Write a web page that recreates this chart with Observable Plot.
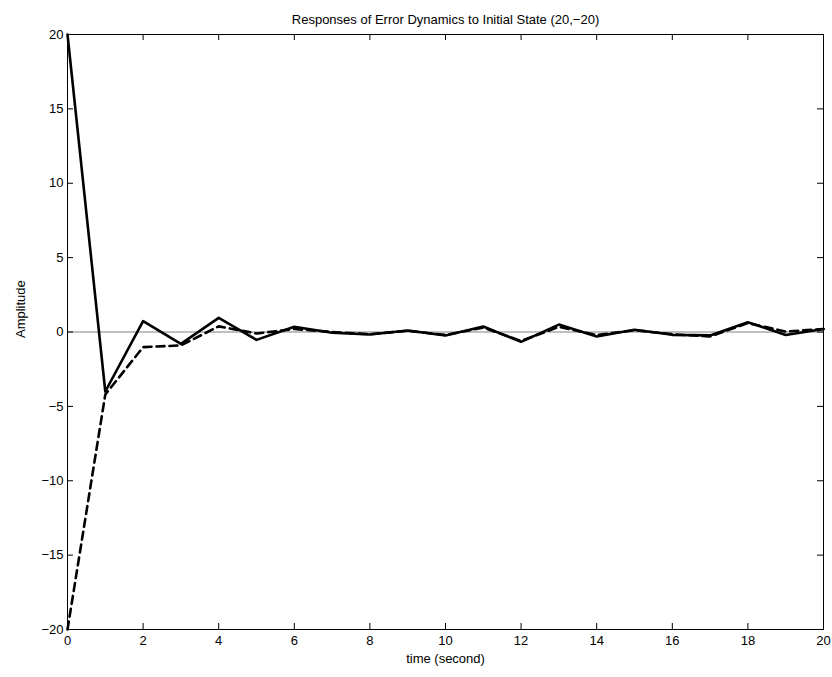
<!DOCTYPE html>
<html>
<head>
<meta charset="utf-8">
<script src="https://cdn.jsdelivr.net/npm/d3@7"></script>
<script src="https://cdn.jsdelivr.net/npm/@observablehq/plot@0.6"></script>
<style>
  html, body { margin: 0; padding: 0; background: #fff; }
</style>
</head>
<body>
<div id="chart"></div>
<script>
const time = [0,1,2,3,4,5,6,7,8,9,10,11,12,13,14,15,16,17,18,19,20];
const errorState1 = [20, -4.0, 0.73, -0.8, 0.95, -0.53, 0.35, -0.05, -0.17, 0.1, -0.24, 0.37, -0.66, 0.5, -0.3, 0.15, -0.19, -0.23, 0.66, -0.2, 0.2];
const errorState2 = [-20, -4.2, -1.02, -0.9, 0.38, -0.1, 0.2, 0.0, -0.15, 0.08, -0.2, 0.3, -0.6, 0.35, -0.2, 0.12, -0.15, -0.3, 0.6, 0.03, 0.2];
const xTicks = [0,2,4,6,8,10,12,14,16,18,20];
const yTicks = [-20,-15,-10,-5,0,5,10,15,20];
const titleText = "Responses of Error Dynamics to Initial State (20,\u221220)";
const xLabel = "time (second)";
const yLabel = "Amplitude";

const s1 = time.map((t, i) => ({t, v: errorState1[i]}));
const s2 = time.map((t, i) => ({t, v: errorState2[i]}));

const W = 832, H = 677;
const mL = 67, mR = 9, mT = 34, mB = 48;
const fw = W - mL - mR, fh = H - mT - mB;
const tl = 6;
const fs = 13;
const fmt = d => String(d).replace("-", "\u2212");

const chart = Plot.plot({
  width: W,
  height: H,
  marginLeft: mL,
  marginRight: mR,
  marginTop: mT,
  marginBottom: mB,
  style: {fontFamily: "'Liberation Sans', Arial, sans-serif", fontSize: fs + "px", color: "black", background: "white"},
  x: {domain: [0, 20]},
  y: {domain: [-20, 20]},
  marks: [
    Plot.ruleY([0], {stroke: "#808080", strokeWidth: 1}),
    Plot.line(s2, {x: "t", y: "v", stroke: "black", strokeWidth: 2.6, strokeDasharray: "8,5"}),
    Plot.line(s1, {x: "t", y: "v", stroke: "black", strokeWidth: 2.6}),
    Plot.tickX(xTicks, {x: d => d, stroke: "black", insetTop: fh - tl}),
    Plot.tickX(xTicks, {x: d => d, stroke: "black", insetBottom: fh - tl}),
    Plot.tickY(yTicks, {y: d => d, stroke: "black", insetRight: fw - tl}),
    Plot.tickY(yTicks, {y: d => d, stroke: "black", insetLeft: fw - tl}),
    Plot.axisX(xTicks, {tickSize: 0, tickPadding: 6, label: null, fontSize: fs}),
    Plot.axisY(yTicks, {tickSize: 0, tickPadding: 4, label: null, tickFormat: fmt, fontSize: fs}),
    Plot.frame({stroke: "black", strokeWidth: 1}),
    Plot.text([titleText], {frameAnchor: "top", dy: -20, fontSize: fs, fill: "black"}),
    Plot.text([xLabel], {frameAnchor: "bottom", dy: 33, fontSize: fs, fill: "black"}),
    Plot.text([yLabel], {frameAnchor: "left", dx: -47, dy: 6, rotate: -90, fontSize: fs, fill: "black"})
  ]
});
document.getElementById("chart").append(chart);
</script>
</body>
</html>
